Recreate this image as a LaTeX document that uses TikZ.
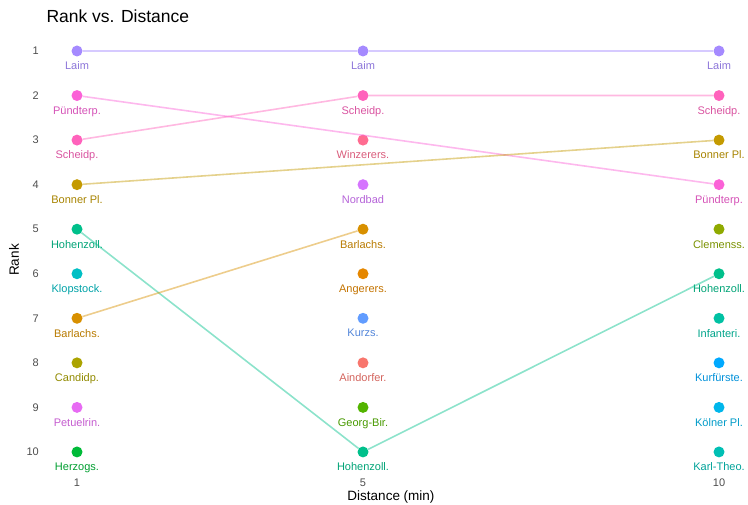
\documentclass[tikz,border=0pt]{standalone}
\usepackage{fontspec}
\setmainfont{Liberation Sans}
\usetikzlibrary{positioning}

\definecolor{laim}{HTML}{A58AFF}
\definecolor{puendt}{HTML}{FB61D7}
\definecolor{scheid}{HTML}{FF62BC}
\definecolor{bonner}{HTML}{C49A00}
\definecolor{hohenz}{HTML}{00C08B}
\definecolor{klopst}{HTML}{00BFC4}
\definecolor{barlach}{HTML}{D89000}
\definecolor{candid}{HTML}{ABA300}
\definecolor{petuel}{HTML}{E76BF3}
\definecolor{herzog}{HTML}{00BA38}
\definecolor{winzer}{HTML}{FF6C91}
\definecolor{nordbad}{HTML}{D575FE}
\definecolor{anger}{HTML}{E58700}
\definecolor{kurzs}{HTML}{619CFF}
\definecolor{aindorf}{HTML}{F8766D}
\definecolor{georg}{HTML}{53B400}
\definecolor{clemens}{HTML}{8FAA00}
\definecolor{infant}{HTML}{00C1A3}
\definecolor{kurfuer}{HTML}{00A9FF}
\definecolor{koelner}{HTML}{00B6EB}
\definecolor{karlth}{HTML}{00BFB4}
\definecolor{tickgray}{HTML}{4D4D4D}

\tikzset{
  stopdot/.style={circle, fill=#1, inner sep=0pt, minimum size=11pt},
  stoplbl/.style={text=#1!85!black, font=\fontsize{11}{13}\selectfont, inner sep=0pt},
  tracks/.style={draw=#1, draw opacity=0.45, line width=1.6pt},
  ticklbl/.style={text=tickgray, font=\fontsize{11}{13}\selectfont, inner sep=0pt},
}

\begin{document}
\begin{tikzpicture}[x=1pt, y=-1pt]
        \useasboundingbox (0, 0) rectangle (748, 505);

        \node[anchor=west, font=\fontsize{17.5}{20}\selectfont] (title) at (43, 16) {Rank vs. Distance};

        % rank ticks
        \foreach \r in {1,...,10}
          \node[ticklbl, anchor=east] (rk\r) at (39, {51+(\r-1)*44.55}) {\r};

        % distance 1
        \foreach \r/\lbl/\col in {1/Laim/laim, 2/Pündterp./puendt, 3/Scheidp./scheid,
            4/Bonner Pl./bonner, 5/Hohenzoll./hohenz, 6/Klopstock./klopst,
            7/Barlachs./barlach, 8/Candidp./candid, 9/Petuelrin./petuel, 10/Herzogs./herzog} {
          \node[stopdot=\col] (a\r) at (77, {51+(\r-1)*44.55}) {};
          \node[stoplbl=\col, below=5pt of a\r] (a\r txt) {\lbl};
        }

        % distance 5
        \foreach \r/\lbl/\col in {1/Laim/laim, 2/Scheidp./scheid, 3/Winzerers./winzer,
            4/Nordbad/nordbad, 5/Barlachs./barlach, 6/Angerers./anger,
            7/Kurzs./kurzs, 8/Aindorfer./aindorf, 9/Georg-Bir./georg, 10/Hohenzoll./hohenz} {
          \node[stopdot=\col] (b\r) at (363, {51+(\r-1)*44.55}) {};
          \node[stoplbl=\col, below=5pt of b\r] (b\r txt) {\lbl};
        }

        % distance 10
        \foreach \r/\lbl/\col in {1/Laim/laim, 2/Scheidp./scheid, 3/Bonner Pl./bonner,
            4/Pündterp./puendt, 5/Clemenss./clemens, 6/Hohenzoll./hohenz,
            7/Infanteri./infant, 8/Kurfürste./kurfuer, 9/Kölner Pl./koelner, 10/Karl-Theo./karlth} {
          \node[stopdot=\col] (c\r) at (719, {51+(\r-1)*44.55}) {};
          \node[stoplbl=\col, below=5pt of c\r] (c\r txt) {\lbl};
        }

        \draw[tracks=laim] (a1) -- (b1) -- (c1);
        \draw[tracks=puendt] (a2) -- (c4);
        \draw[tracks=scheid] (a3) -- (b2) -- (c2);
        \draw[tracks=bonner] (a4) -- (c3);
        \draw[tracks=hohenz] (a5) -- (b10) -- (c6);
        \draw[tracks=barlach] (a7) -- (b5);

        % axes
        \node[ticklbl] (d1) at (77, 483) {1};
        \node[ticklbl] (d5) at (363, 483) {5};
        \node[ticklbl] (d10) at (719, 483) {10};
        \node[font=\fontsize{13.5}{16}\selectfont] (xname) at (391, 497) {Distance (min)};
        \node[font=\fontsize{13.5}{16}\selectfont, rotate=90] (yname) at (14, 260) {Rank};
\end{tikzpicture}
\end{document}
